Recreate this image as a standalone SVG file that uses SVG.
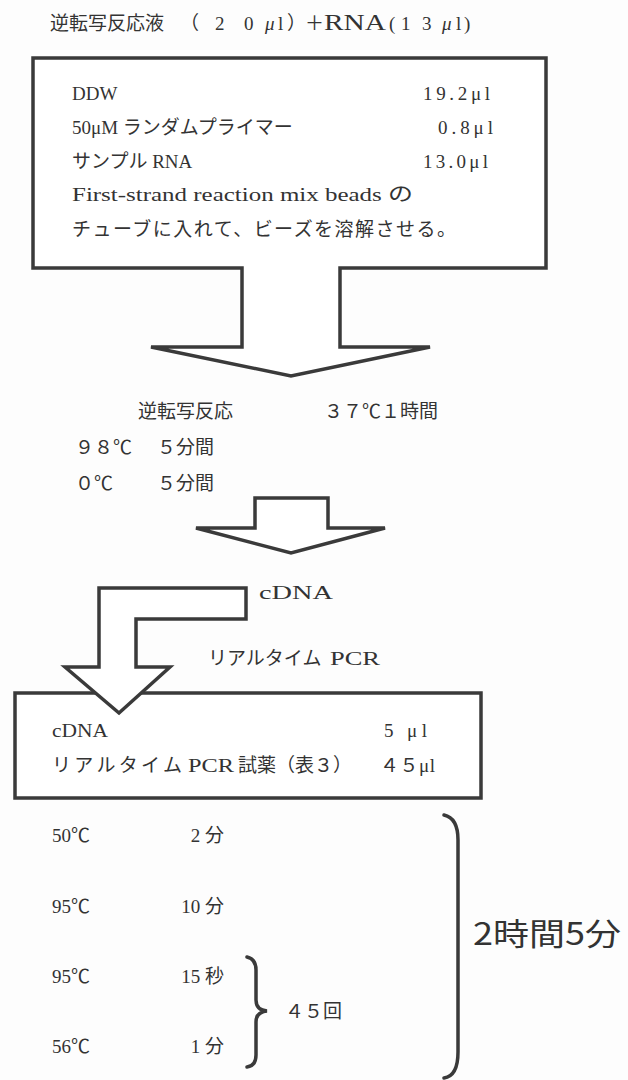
<svg xmlns="http://www.w3.org/2000/svg" width="628" height="1080" viewBox="0 0 628 1080">
<style>
.t{font-family:"Liberation Serif","Noto Sans CJK JP",serif;fill:#333;font-size:19px}
.j{font-family:"Noto Sans CJK JP",sans-serif}
.i{font-style:italic}
.s{font-family:"Noto Sans CJK JP","Liberation Sans",sans-serif;fill:#333}
.ln{fill:#fff;stroke:#3a3a3a;stroke-width:3.5;stroke-linejoin:miter}
.br{fill:none;stroke:#3a3a3a;stroke-width:3.5;stroke-linecap:round}
.e{text-anchor:end}
</style>
<rect x="0" y="0" width="628" height="1080" fill="#fdfdfd"/>
<g id="title">
<text class="t" y="30" font-size="23"><tspan x="50">逆転写反応液</tspan><tspan class="j" x="180">（</tspan><tspan x="215">2</tspan><tspan x="244">0</tspan><tspan class="i" x="265">μ</tspan><tspan x="278">l</tspan><tspan class="j" x="287">）</tspan><tspan class="j" x="305">＋</tspan><tspan x="324" font-size="24" textLength="62" lengthAdjust="spacingAndGlyphs">RNA</tspan><tspan x="389">(</tspan><tspan x="401">1</tspan><tspan x="422">3</tspan><tspan class="i" x="442">μ</tspan><tspan x="456">l</tspan><tspan x="464">)</tspan></text>
</g>
<g id="mixbox">
<path class="ln" d="M242,268 L33,268 L33,58 L546,58 L546,268 L340,268 L340,347 L430,347 L291,376 L151,347 L242,347 Z"/>
<text class="t" x="72" y="100" font-size="20">DDW</text>
<text class="t" x="423" y="100" font-size="20" textLength="67" lengthAdjust="spacing">19.2μl</text>
<text class="t" x="72" y="134" font-size="21">50μM ランダムプライマー</text>
<text class="t" x="438" y="134" font-size="20" textLength="55" lengthAdjust="spacing">0.8μl</text>
<text class="t" x="72" y="168" font-size="20.5">サンプル RNA</text>
<text class="t" x="423" y="168" font-size="20" textLength="65" lengthAdjust="spacing">13.0μl</text>
<text class="t" x="72" y="201" font-size="20.5" textLength="341" lengthAdjust="spacingAndGlyphs">First-strand reaction mix beads の</text>
<text class="t" x="72" y="236" font-size="20" textLength="384" lengthAdjust="spacing">チューブに入れて、ビーズを溶解させる。</text>
</g>
<g id="rt">
<text class="t" x="138" y="418" font-size="23">逆転写反応</text>
<text class="t e" x="438" y="418" font-size="20">３７℃１時間</text>
<text class="t" x="75" y="454" font-size="19">９８℃</text>
<text class="t" x="157" y="454" font-size="19">５分間</text>
<text class="t" x="75" y="490" font-size="19">０℃</text>
<text class="t" x="157" y="490" font-size="19">５分間</text>
</g>
<g id="connectors">
<path class="ln" d="M255,498 L328,498 L328,528 L385,528 L291,553 L196,528 L255,528 Z"/>
</g>
<g id="cdna">
<text class="t" x="259" y="599" font-size="25" textLength="74" lengthAdjust="spacingAndGlyphs">cDNA</text>
<text class="t" y="665" font-size="19.5"><tspan x="208">リアルタイム</tspan><tspan x="330" textLength="50" lengthAdjust="spacingAndGlyphs">PCR</tspan></text>
</g>
<g id="pcrbox">
<rect class="ln" x="15" y="693" width="466" height="105"/>
<text class="t" x="52" y="737" font-size="20" textLength="56" lengthAdjust="spacingAndGlyphs">cDNA</text>
<text class="t" x="384" y="737" font-size="19" textLength="43" lengthAdjust="spacing">5 μl</text>
<text class="t" y="772" font-size="20"><tspan x="52" textLength="130" lengthAdjust="spacing">リアルタイム</tspan><tspan x="188" textLength="46" lengthAdjust="spacingAndGlyphs">PCR</tspan><tspan x="238">試薬（表３）</tspan></text>
<text class="t" x="380" y="772" font-size="19" textLength="55" lengthAdjust="spacing">４５μl</text>
</g>
<g id="larrow">
<path class="ln" d="M99,588 L246,588 L246,619 L136,619 L136,667 L170,667 L119,713 L65,667 L99,667 Z"/>
</g>
<g id="cycle">
<text class="t" x="52" y="842" font-size="18">50℃</text>
<text class="t e" x="224" y="842" font-size="18">2 分</text>
<text class="t" x="52" y="913" font-size="18">95℃</text>
<text class="t e" x="224" y="913" font-size="18">10 分</text>
<text class="t" x="52" y="983" font-size="18">95℃</text>
<text class="t e" x="224" y="983" font-size="18">15 秒</text>
<text class="t" x="52" y="1053" font-size="18">56℃</text>
<text class="t e" x="224" y="1053" font-size="18">1 分</text>
<path class="br" d="M247,957 Q256,959 256,970 L256,1000 Q256,1010 267,1011 Q256,1012 256,1022 L256,1055 Q256,1066 247,1067"/>
<text class="t" x="285" y="1018" font-size="18">４５回</text>
<path class="br" d="M444,815 Q458,818 458,840 L458,1052 Q458,1076 444,1078"/>
<text class="s" x="473" y="945" font-size="31" textLength="148" lengthAdjust="spacingAndGlyphs">2時間5分</text>
</g>
</svg>
